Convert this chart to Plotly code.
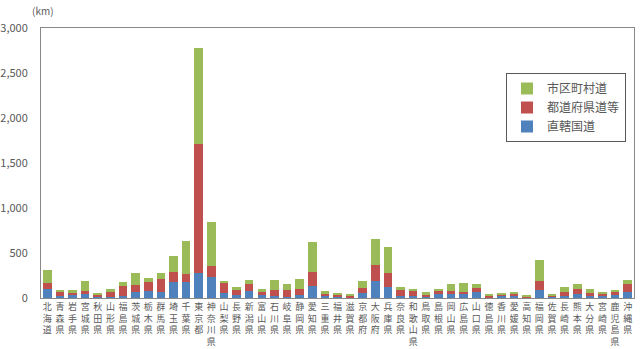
import plotly.graph_objects as go

prefectures = ["北海道", "青森県", "岩手県", "宮城県", "秋田県", "山形県", "福島県", "茨城県",
               "栃木県", "群馬県", "埼玉県", "千葉県", "東京都", "神奈川県", "山梨県", "長野県",
               "新潟県", "富山県", "石川県", "岐阜県", "静岡県", "愛知県", "三重県", "福井県",
               "滋賀県", "京都府", "大阪府", "兵庫県", "奈良県", "和歌山県", "鳥取県", "島根県",
               "岡山県", "広島県", "山口県", "徳島県", "香川県", "愛媛県", "高知県", "福岡県",
               "佐賀県", "長崎県", "熊本県", "大分県", "宮崎県", "鹿児島県", "沖縄県"]

national_roads = [98, 18, 30, 41, 11, 11, 26, 70, 78, 63, 174, 181, 274, 229, 59, 30,
                  74, 30, 18, 15, 37, 130, 26, 15, 11, 52, 185, 118, 26, 22, 15, 41,
                  41, 44, 67, 11, 18, 18, 11, 93, 15, 18, 41, 26, 26, 37, 63]
prefectural_roads = [72, 49, 29, 37, 30, 56, 107, 71, 103, 144, 115, 82, 1432, 130, 111, 63,
                     78, 37, 75, 78, 59, 159, 26, 26, 15, 59, 185, 160, 67, 56, 18, 44,
                     37, 26, 48, 15, 23, 30, 11, 96, 18, 49, 59, 33, 22, 33, 96]
municipal_roads = [145, 22, 34, 111, 18, 29, 41, 137, 41, 71, 177, 370, 1069, 485, 22, 33,
                   48, 33, 107, 59, 115, 336, 22, 18, 18, 81, 285, 284, 29, 18, 34, 19,
                   81, 100, 37, 15, 18, 19, 11, 229, 15, 59, 59, 41, 22, 23, 45]

series_names = ["直轄国道", "都道府県道等", "市区町村道"]
colors = ["#4F81BD", "#C0504D", "#9BBB59"]

tick_text = ["<br>".join(list(p)) for p in prefectures]
FONT = "Noto Sans CJK JP"
GRAY = "#595959"

fig = go.Figure()
for name, vals, col in zip(series_names, [national_roads, prefectural_roads, municipal_roads], colors):
    fig.add_trace(go.Bar(x=prefectures, y=vals, name=name, marker=dict(color=col, line=dict(width=0))))

fig.update_layout(
    barmode="stack",
    bargap=0.32,
    width=640, height=349,
    margin=dict(l=41, r=6, t=28, b=51, autoexpand=False),
    paper_bgcolor="white", plot_bgcolor="white",
    font=dict(family=FONT, color=GRAY, size=11),
    showlegend=True,
    legend=dict(
        x=(506 - 41) / 593, y=(298 - 73) / 270, xanchor="left", yanchor="top",
        traceorder="reversed",
        bordercolor=GRAY, borderwidth=1, bgcolor="white",
        font=dict(family=FONT, size=12, color=GRAY),
        tracegroupgap=0,
    ),
    annotations=[dict(text="(km)", x=(43 - 41) / 593, y=(298 - 10) / 270,
                      xref="paper", yref="paper", xanchor="center", yanchor="middle",
                      showarrow=False, font=dict(size=10, color=GRAY, family=FONT))],
)

fig.update_xaxes(
    tickmode="array", tickvals=prefectures, ticktext=tick_text, tickangle=0,
    tickfont=dict(size=9, color=GRAY, family=FONT),
    showline=True, mirror=True, linecolor="#898989", linewidth=1,
    ticks="", showgrid=False, automargin=False,
)
fig.update_yaxes(
    range=[0, 3000], dtick=500, tickformat=",",
    tickfont=dict(size=11, color=GRAY, family=FONT),
    showline=True, mirror=True, linecolor="#898989", linewidth=1,
    showgrid=False, zeroline=False, ticks="", ticklabelstandoff=10, automargin=False,
)

fig.write_html("out.html")
